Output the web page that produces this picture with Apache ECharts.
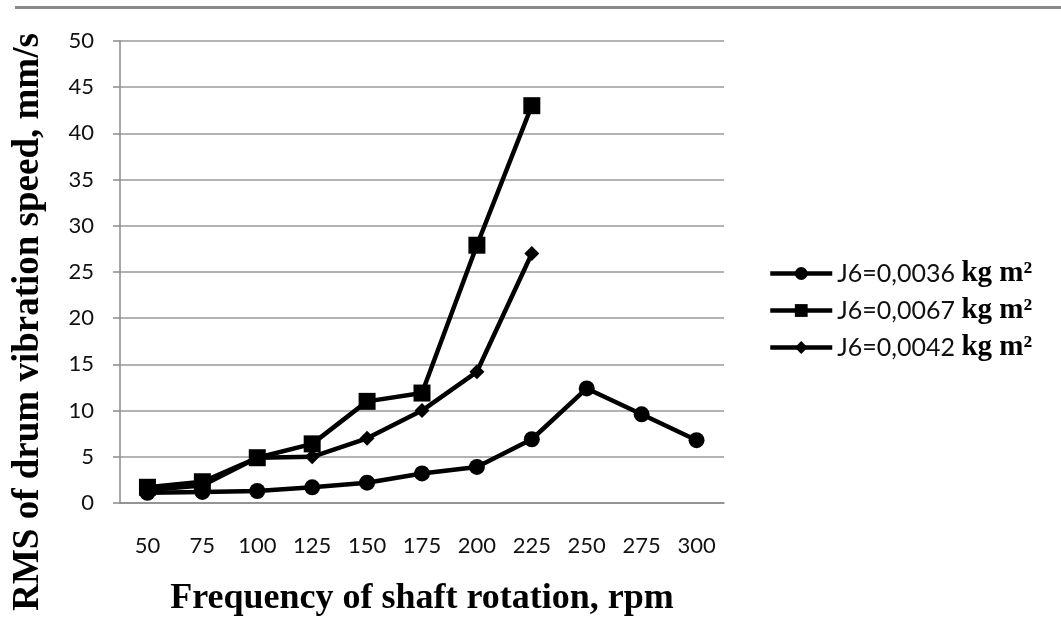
<!DOCTYPE html>
<html><head><meta charset="utf-8">
<script src="https://cdn.jsdelivr.net/npm/echarts@6/dist/echarts.min.js"></script>
<style>html,body{margin:0;padding:0;background:#fff}#c{width:1061px;height:638px}</style>
</head><body><div id="c"></div>
<script>
const categories = ['50','75','100','125','150','175','200','225','250','275','300'];
const j0036 = [1.1, 1.2, 1.3, 1.7, 2.2, 3.2, 3.9, 6.9, 12.4, 9.6, 6.8];
const j0067 = [1.7, 2.3, 4.9, 6.4, 11.0, 11.9, 27.9, 43.0];
const j0042 = [1.4, 1.9, 4.9, 5.0, 7.0, 10.0, 14.2, 27.0];
const seriesNames = ['J6=0,0036', 'J6=0,0067', 'J6=0,0042'];
const yTicks = {min: 0, max: 50, interval: 5};
const yTitle = 'RMS of drum vibration speed, mm/s';
const xTitle = 'Frequency of shaft rotation, rpm';

const chart = echarts.init(document.getElementById('c'));
const lineSeries = (name, data, symbol, size) => ({
  name, type: 'line', data, symbol, symbolSize: size,
  itemStyle: {color: '#000'}, lineStyle: {color: '#000', width: 4.5},
  animation: false
});
chart.setOption({
  backgroundColor: '#fff',
  graphic: [
    {type: 'rect', left: 15, top: 6, shape: {width: 1046, height: 3}, style: {fill: '#8a8a8a'}},
    {type: 'text', x: 28, y: 322, rotation: Math.PI / 2,
     style: {text: yTitle, fill: '#000', font: 'bold 37px "Liberation Serif"', textAlign: 'center', textVerticalAlign: 'middle'}}
  ],
  grid: {left: 120, right: 337, top: 41, bottom: 135, outerBoundsMode: 'none', containLabel: false},
  xAxis: {
    type: 'category', data: categories, boundaryGap: true,
    axisLine: {lineStyle: {color: '#8a8a8a', width: 1.5}},
    axisTick: {show: false},
    axisLabel: {color: '#111', fontFamily: 'Lato', fontSize: 22, margin: 32},
    name: xTitle, nameLocation: 'middle', nameGap: 78,
    nameTextStyle: {color: '#000', fontFamily: 'Liberation Serif', fontWeight: 'bold', fontSize: 36}
  },
  yAxis: {
    type: 'value', min: yTicks.min, max: yTicks.max, interval: yTicks.interval,
    axisLine: {show: true, lineStyle: {color: '#8a8a8a', width: 1.5}},
    axisTick: {show: true, length: 7, lineStyle: {color: '#8a8a8a', width: 1.5}},
    splitLine: {lineStyle: {color: '#9a9a9a', width: 1.5}},
    axisLabel: {color: '#111', fontFamily: 'Lato', fontSize: 22, margin: 26}
  },
  legend: {
    orient: 'vertical', left: 763, top: 254, itemWidth: 62, itemHeight: 16, itemGap: 8,
    data: seriesNames,
    lineStyle: {width: 4.5, color: '#000'},
    formatter: n => '{a|' + n + ' }{b|kg m²}',
    textStyle: {
      rich: {
        a: {fontFamily: 'Lato', fontSize: 25, color: '#111'},
        b: {fontFamily: 'Liberation Serif', fontWeight: 'bold', fontSize: 29, color: '#000'}
      }
    }
  },
  series: [
    lineSeries(seriesNames[0], j0036, 'circle', 16),
    lineSeries(seriesNames[1], j0067, 'rect', 17),
    lineSeries(seriesNames[2], j0042, 'diamond', 15)
  ]
});
</script></body></html>
